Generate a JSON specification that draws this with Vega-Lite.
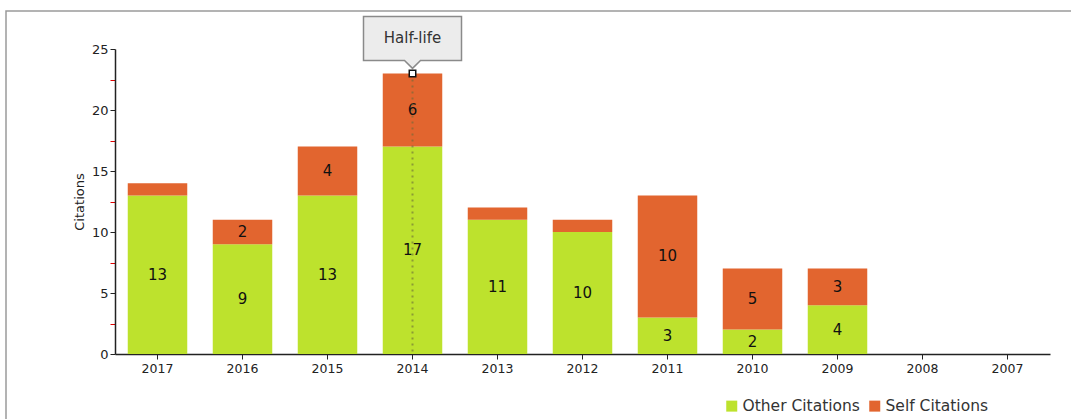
{
  "$schema": "https://vega.github.io/schema/vega-lite/v6.json",
  "autosize": {"type": "none"},
  "width": 1065,
  "height": 408,
  "padding": {"left": 6, "top": 11, "right": 0, "bottom": 0},
  "background": "white",
  "config": {
    "view": {"stroke": "#9a9a9a", "strokeWidth": 1.5, "strokeDash": [1065, 1473, 408]},
    "font": "DejaVu Sans",
    "axis": {"labelFont": "DejaVu Sans", "titleFont": "DejaVu Sans"}
  },
  "datasets": {
    "cites": [
      {"year": "2017", "type": "Other Citations", "count": 13},
      {"year": "2017", "type": "Self Citations", "count": 1},
      {"year": "2016", "type": "Other Citations", "count": 9},
      {"year": "2016", "type": "Self Citations", "count": 2},
      {"year": "2015", "type": "Other Citations", "count": 13},
      {"year": "2015", "type": "Self Citations", "count": 4},
      {"year": "2014", "type": "Other Citations", "count": 17},
      {"year": "2014", "type": "Self Citations", "count": 6},
      {"year": "2013", "type": "Other Citations", "count": 11},
      {"year": "2013", "type": "Self Citations", "count": 1},
      {"year": "2012", "type": "Other Citations", "count": 10},
      {"year": "2012", "type": "Self Citations", "count": 1},
      {"year": "2011", "type": "Other Citations", "count": 3},
      {"year": "2011", "type": "Self Citations", "count": 10},
      {"year": "2010", "type": "Other Citations", "count": 2},
      {"year": "2010", "type": "Self Citations", "count": 5},
      {"year": "2009", "type": "Other Citations", "count": 4},
      {"year": "2009", "type": "Self Citations", "count": 3},
      {"year": "2008", "type": "Other Citations", "count": 0},
      {"year": "2008", "type": "Self Citations", "count": 0},
      {"year": "2007", "type": "Other Citations", "count": 0},
      {"year": "2007", "type": "Self Citations", "count": 0}
    ],
    "halflife": [
      {"year": "2014", "total": 23, "base": 0, "label": "Half-life"}
    ]
  },
  "encoding": {
    "x": {
      "field": "year", "type": "nominal",
      "sort": ["2017","2016","2015","2014","2013","2012","2011","2010","2009","2008","2007"],
      "scale": {"paddingInner": 0.3, "paddingOuter": 0.15, "range": [109, 1044]},
      "axis": {
        "title": null, "labelAngle": 0, "labelFontSize": 12.5, "labelColor": "#222",
        "domainColor": "#222", "domainWidth": 1.5, "tickColor": "#222", "tickSize": 5,
        "labelPadding": 3, "offset": -65
      }
    }
  },
  "layer": [
    {
      "data": {"name": "cites"},
      "mark": {"type": "bar"},
      "encoding": {
        "y": {
          "field": "count", "type": "quantitative", "stack": "zero",
          "scale": {"domain": [0, 25], "nice": false, "range": [343, 38]},
          "axis": {
            "title": "Citations", "titleFontSize": 13, "titleFontWeight": "normal", "titleColor": "#222",
            "titlePadding": 5, "offset": -109,
            "values": [0, 2.5, 5, 7.5, 10, 12.5, 15, 17.5, 20, 22.5, 25],
            "labelExpr": "datum.value % 5 === 0 ? datum.label : ''",
            "labelFontSize": 13, "labelColor": "#222", "labelPadding": 2,
            "grid": false, "domainColor": "#222", "domainWidth": 1.5,
            "tickSize": 5,
            "tickColor": {"condition": {"test": "datum.value % 5 !== 0", "value": "#e00000"}, "value": "#222"}
          }
        },
        "color": {
          "field": "type", "type": "nominal",
          "scale": {"domain": ["Other Citations", "Self Citations"], "range": ["#bde22d", "#e2652f"]},
          "legend": {
            "title": null, "orient": "none", "legendX": 718, "legendY": 387,
            "direction": "horizontal", "symbolType": "square", "symbolSize": 121,
            "symbolStrokeWidth": 0, "labelFontSize": 15.5, "labelColor": "#333",
            "labelFont": "DejaVu Sans", "columnPadding": 7, "labelOffset": 3
          }
        },
        "order": {"field": "type", "sort": "ascending"}
      }
    },
    {
      "data": {"name": "cites"},
      "transform": [
        {"stack": "count", "groupby": ["year"], "sort": [{"field": "type", "order": "ascending"}], "as": ["y0", "y1"]},
        {"filter": "datum.count >= 2"},
        {"calculate": "(datum.y0 + datum.y1) / 2", "as": "mid"}
      ],
      "mark": {"type": "text", "fontSize": 15, "color": "#111", "baseline": "middle", "font": "DejaVu Sans"},
      "encoding": {
        "y": {"field": "mid", "type": "quantitative"},
        "text": {"field": "count", "type": "quantitative"}
      }
    },
    {
      "data": {"name": "halflife"},
      "mark": {"type": "rule", "color": "#6b6b3a", "strokeWidth": 2, "strokeDash": [2, 4], "opacity": 0.6},
      "encoding": {
        "y": {"field": "total", "type": "quantitative"},
        "y2": {"field": "base"}
      }
    },
    {
      "data": {"name": "halflife"},
      "mark": {
        "type": "point", "filled": true, "size": 4,
        "shape": "M-49,-57L49,-57L49,-13L8,-13L0,-5L-8,-13L-49,-13Z",
        "fill": "#ececec",
        "stroke": "#8a8a8a", "strokeWidth": 1.5, "opacity": 1
      },
      "encoding": {
        "y": {"field": "total", "type": "quantitative"}
      }
    },
    {
      "data": {"name": "halflife"},
      "mark": {"type": "point", "shape": "square", "size": 42, "filled": true, "fill": "white", "stroke": "#111", "strokeWidth": 1.5, "opacity": 1},
      "encoding": {
        "y": {"field": "total", "type": "quantitative"}
      }
    },
    {
      "data": {"name": "halflife"},
      "mark": {"type": "text", "fontSize": 15, "color": "#333", "baseline": "middle", "yOffset": -35, "font": "DejaVu Sans"},
      "encoding": {
        "y": {"field": "total", "type": "quantitative"},
        "text": {"field": "label", "type": "nominal"}
      }
    }
  ]
}
